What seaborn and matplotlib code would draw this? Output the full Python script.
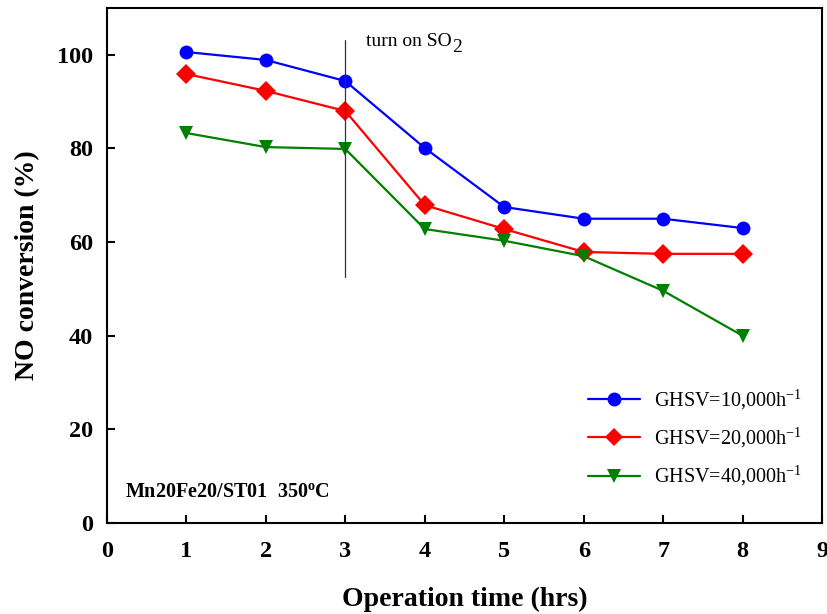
import numpy as np
import pandas as pd
import matplotlib
matplotlib.use("Agg")
import matplotlib.pyplot as plt
import seaborn as sns
from matplotlib.lines import Line2D

# Operation time (hrs) and NO conversion (%) for each space velocity
hours = [1, 2, 3, 4, 5, 6, 7, 8]
conv_10k = [100.6, 98.9, 94.4, 80.1, 67.5, 65.0, 65.0, 63.0]
conv_20k = [95.9, 92.3, 88.0, 67.9, 62.8, 57.9, 57.5, 57.5]
conv_40k = [83.3, 80.3, 79.9, 62.8, 60.3, 57.0, 49.6, 40.0]
series_labels = [r"GHSV=10,000h$^{-1}$", r"GHSV=20,000h$^{-1}$", r"GHSV=40,000h$^{-1}$"]
x_ticks = list(range(0, 10))
y_ticks = [0, 20, 40, 60, 80, 100]

sns.set_theme(style="white")
plt.rcParams["font.family"] = ["Liberation Serif", "DejaVu Serif"]
plt.rcParams["mathtext.fontset"] = "custom"
plt.rcParams["mathtext.rm"] = "Liberation Serif"
plt.rcParams["mathtext.it"] = "Liberation Serif:italic"
plt.rcParams["mathtext.bf"] = "Liberation Serif:bold"
plt.rcParams["text.color"] = "black"
plt.rcParams["axes.labelcolor"] = "black"
plt.rcParams["xtick.color"] = "black"
plt.rcParams["ytick.color"] = "black"

df = pd.DataFrame({
    "hours": hours * 3,
    "conversion": conv_10k + conv_20k + conv_40k,
    "series": [series_labels[0]] * len(hours)
    + [series_labels[1]] * len(hours)
    + [series_labels[2]] * len(hours),
})

palette = dict(zip(series_labels, ["#0000ff", "#ff0000", "#008000"]))
markers = dict(zip(series_labels, ["o", "D", "v"]))

fig = plt.figure(figsize=(8.28, 6.14), dpi=100)
ax = fig.add_axes([0.129, 0.148, 0.864, 0.839])

sns.lineplot(data=df, x="hours", y="conversion", hue="series", style="series",
             palette=palette, markers=markers, dashes=False, linewidth=1.6,
             markersize=10, markeredgewidth=0, ax=ax, legend=False)

# SO2 switched on after the third hour
ax.plot([3, 3], [52.6, 103.2], color="#333333", linewidth=0.9)
so2 = ax.text(3.26, 102.8, "turn on SO", fontsize=14, va="center", ha="left")
ax.annotate("2", xy=(1.0, 0.5), xycoords=so2, xytext=(0.5, -4),
            textcoords="offset points", fontsize=14, va="center", ha="left")
ax.text(0.23, 6.6, r"Mn20Fe20/ST01  350$^\mathbf{o}$C", fontsize=14.5,
        fontweight="bold", va="center", ha="left")

handles = [Line2D([], [], color=palette[s], marker=markers[s],
                  markersize=10 if markers[s] != "D" else 9,
                  markeredgewidth=0, linewidth=1.6) for s in series_labels]
ax.legend(handles, series_labels, loc="center left", bbox_to_anchor=(0.672, 0.165),
          frameon=False, fontsize=14.5, handlelength=2.6, labelspacing=0.7,
          borderpad=0, borderaxespad=0, handletextpad=0.7)

ax.set_xlim(0, 9)
ax.set_ylim(0, 110)
ax.set_xticks(x_ticks)
ax.set_yticks(y_ticks)
ax.tick_params(axis="both", direction="in", length=6, width=1.5, labelsize=17.5,
               bottom=True, left=True, top=False, right=False)
ax.tick_params(axis="x", pad=13)
ax.tick_params(axis="y", pad=10)
for lab in ax.get_xticklabels() + ax.get_yticklabels():
    lab.set_fontweight("bold")
for sp in ax.spines.values():
    sp.set_color("black")
    sp.set_linewidth(1.5)

ax.set_xlabel("Operation time (hrs)", fontsize=20, fontweight="bold", labelpad=18)
ax.set_ylabel("NO conversion (%)", fontsize=20, fontweight="bold", labelpad=12)

fig.savefig("out.png", dpi=100)
